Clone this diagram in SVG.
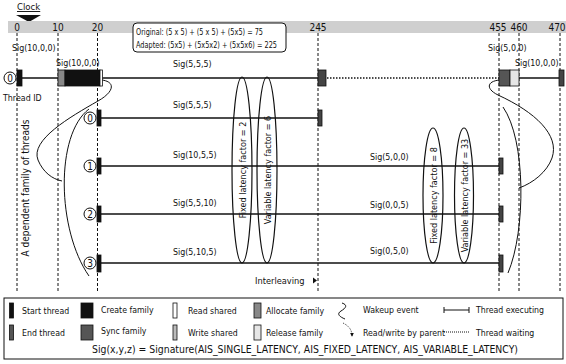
<svg xmlns="http://www.w3.org/2000/svg" width="566" height="364" viewBox="0 0 566 364">
<defs>
<style>
text{font-family:"DejaVu Sans Condensed","DejaVu Sans",sans-serif;font-stretch:condensed;fill:#111;font-size:8.8px}
.tick{font-size:10px;text-anchor:middle}
.box{font-size:8.3px}
.leg{font-size:8.7px}
.dash{stroke:#111;stroke-width:1;stroke-dasharray:3,2;fill:none}
.thr{stroke:#111;stroke-width:1.5;fill:none}
.curve{stroke:#111;stroke-width:1;fill:none}
.ell{fill:none;stroke:#111;stroke-width:1.2}
.blk{fill:#111;stroke:#111;stroke-width:0.8}
.end{fill:#444;stroke:#111;stroke-width:0.8}
.alloc{fill:#888;stroke:#111;stroke-width:0.8}
.rd{fill:#fff;stroke:#111;stroke-width:0.8}
.wr{fill:#bbb;stroke:#111;stroke-width:0.8}
.rel{fill:#e6e6e6;stroke:#111;stroke-width:0.8}
.sync{fill:#555;stroke:#111;stroke-width:0.8}
.cid{fill:#fff;stroke:#111;stroke-width:1}
.cidt{font-size:10px;text-anchor:middle}
.vt{font-size:9px;text-anchor:middle}
</style>
<marker id="ah" viewBox="0 0 6 6" refX="5" refY="3" markerWidth="5" markerHeight="5" orient="auto"><path d="M0,0L6,3L0,6z" fill="#111"/></marker>
</defs>
<rect width="566" height="364" fill="#fff"/>

<g id="clock">
<text x="17" y="10" style="text-decoration:underline;font-size:9.5px">Clock</text>
<path d="M16,15 L41,15 L29,22 Z" fill="#111"/>
<rect x="8" y="21" width="558" height="12" fill="#cfcfcf"/>
<text class="tick" x="17" y="31">0</text>
<text class="tick" x="58" y="31">10</text>
<text class="tick" x="97.5" y="31">20</text>
<text class="tick" x="318" y="31">245</text>
<text class="tick" x="498" y="31">455</text>
<text class="tick" x="519" y="31">460</text>
<text class="tick" x="557" y="31">470</text>
</g>

<g id="formula">
<rect x="133" y="23" width="153" height="29" rx="4" fill="#fff" stroke="#111" stroke-width="1"/>
<text class="box" x="136" y="35" textLength="127" lengthAdjust="spacingAndGlyphs">Original: (5 x 5) + (5 x 5) + (5x5) = 75</text>
<text class="box" x="136" y="48" textLength="141" lengthAdjust="spacingAndGlyphs">Adapted: (5x5) + (5x5x2) + (5x5x6) = 225</text>
</g>

<g id="gridlines">
<line class="dash" x1="17" y1="33" x2="17" y2="292"/>
<line class="dash" x1="58" y1="33" x2="58" y2="292"/>
<line class="dash" x1="97.5" y1="33" x2="97.5" y2="292"/>
<line class="dash" x1="318" y1="33" x2="318" y2="292"/>
<line class="dash" x1="499" y1="33" x2="499" y2="292"/>
<line class="dash" x1="519" y1="33" x2="519" y2="292"/>
<line class="dash" x1="560" y1="33" x2="560" y2="292"/>
</g>

<g id="connectors">
<line class="thr" x1="22" y1="78" x2="58" y2="78"/>
<line class="thr" x1="102" y1="78" x2="318" y2="78"/>
<line x1="327" y1="78" x2="499" y2="78" stroke="#111" stroke-width="1.5" stroke-dasharray="1.5,1.5"/>
<line class="thr" x1="519" y1="78" x2="560" y2="78"/>
<line class="thr" x1="101" y1="118" x2="318" y2="118"/>
<line class="thr" x1="101" y1="166" x2="499" y2="166"/>
<line class="thr" x1="101" y1="214" x2="499" y2="214"/>
<line class="thr" x1="101" y1="263" x2="499" y2="263"/>
<path class="curve" d="M102,80 C116,82 114,92 98,101 C70,117 30,140 38,160 C43,172 52,179 62,181"/>
<path class="curve" d="M89,109 C55,135 57,230 89,276"/>
<path class="curve" d="M502,80 C488,80 484,88 498,95 C535,112 560,135 552,158 C547,172 533,183 519,188"/>
<path class="curve" d="M503,107 C526,140 526,230 508,273"/>
</g>

<g id="thread0">
<circle class="cid" cx="10" cy="78" r="6"/>
<text class="cidt" x="10" y="81.5">0</text>
<rect class="blk" x="17" y="70" width="5" height="16"/>
<rect class="alloc" x="58" y="70" width="7" height="16"/>
<rect class="blk" x="65" y="70" width="35" height="16"/>
<rect class="rd" x="100" y="70" width="2.5" height="16"/>
<rect class="end" x="318" y="70" width="8" height="16"/>
<rect class="sync" x="499" y="70" width="11" height="16"/>
<rect class="rel" x="510" y="70" width="9" height="16"/>
<rect class="end" x="559" y="70" width="5" height="16"/>
<text x="12" y="51">Sig(10,0,0)</text>
<text x="56" y="66">Sig(10,0,0)</text>
<text x="173" y="67">Sig(5,5,5)</text>
<text x="488" y="51">Sig(5,0,0)</text>
<text x="515" y="66">Sig(10,0,0)</text>
<text x="3" y="101">Thread ID</text>
</g>

<g id="child0">
<circle class="cid" cx="90" cy="118" r="6"/>
<text class="cidt" x="90" y="121.5">0</text>
<rect class="blk" x="97" y="110" width="4" height="16"/>
<rect class="end" x="318" y="110" width="4" height="16"/>
<text x="173" y="108">Sig(5,5,5)</text>
</g>

<g id="child1">
<circle class="cid" cx="90" cy="166" r="6"/>
<text class="cidt" x="90" y="169.5">1</text>
<rect class="blk" x="97" y="158" width="4" height="16"/>
<rect class="end" x="499" y="158" width="4" height="16"/>
<text x="173" y="158">Sig(10,5,5)</text>
<text x="370" y="160">Sig(5,0,0)</text>
</g>

<g id="child2">
<circle class="cid" cx="90" cy="214" r="6"/>
<text class="cidt" x="90" y="217.5">2</text>
<rect class="blk" x="97" y="206" width="4" height="16"/>
<rect class="end" x="499" y="206" width="4" height="16"/>
<text x="173" y="206">Sig(5,5,10)</text>
<text x="370" y="208">Sig(0,0,5)</text>
</g>

<g id="child3">
<circle class="cid" cx="90" cy="263" r="6"/>
<text class="cidt" x="90" y="266.5">3</text>
<rect class="blk" x="97" y="255" width="4" height="17"/>
<rect class="end" x="499" y="255" width="4" height="17"/>
<text x="173" y="255">Sig(5,10,5)</text>
<text x="370" y="254">Sig(0,5,0)</text>
</g>

<g id="latency1">
<ellipse class="ell" cx="242" cy="170" rx="10" ry="93"/>
<ellipse class="ell" cx="267" cy="170" rx="10" ry="93"/>
<text class="vt" transform="translate(245.5,170) rotate(-90)">Fixed latency factor = 2</text>
<text class="vt" transform="translate(270.5,170) rotate(-90)">Variable latency factor = 6</text>
</g>

<g id="latency2">
<ellipse class="ell" cx="433" cy="195.5" rx="10" ry="67.5"/>
<ellipse class="ell" cx="464" cy="195.5" rx="9.5" ry="67.5"/>
<text class="vt" transform="translate(436.5,195.5) rotate(-90)">Fixed latency factor = 8</text>
<text class="vt" transform="translate(467.5,195.5) rotate(-90)">Variable latency factor = 33</text>
</g>

<g id="labels">
<text style="font-size:10px;text-anchor:middle" transform="translate(28.5,188) rotate(-90)">A dependent family of threads</text>
<text x="255" y="284" style="font-size:9.2px">Interleaving</text>
<path d="M313,277.5 L317,280.5 L313,283.5 Z" fill="#111"/>
</g>

<g id="legend">
<rect x="4" y="298" width="559" height="61" fill="#fff" stroke="#111" stroke-width="1"/>
<rect class="blk" x="9.5" y="303" width="4" height="15"/>
<text class="leg" x="22" y="314">Start thread</text>
<rect class="sync" x="9.5" y="325" width="4" height="15"/>
<text class="leg" x="22" y="336">End thread</text>
<rect class="blk" x="81" y="303" width="12" height="15"/>
<text class="leg" x="101" y="313">Create family</text>
<rect class="sync" x="81" y="325" width="12" height="15"/>
<text class="leg" x="101" y="334">Sync family</text>
<rect class="rd" x="173" y="303" width="4" height="15"/>
<text class="leg" x="188" y="314">Read shared</text>
<rect class="wr" x="173" y="325" width="4" height="15"/>
<text class="leg" x="188" y="336">Write shared</text>
<rect class="alloc" x="254" y="303" width="7" height="15"/>
<text class="leg" x="266" y="314">Allocate family</text>
<rect class="rel" x="254" y="325" width="7" height="15"/>
<text class="leg" x="266" y="336">Release family</text>
<path class="curve" d="M342,303 C348,305 346,308 341,311 C336,314 340,317 345,319"/>
<text class="leg" x="363" y="313">Wakeup event</text>
<path d="M343,323 C349,326 352,330 352,336" fill="none" stroke="#111" stroke-width="0.8" stroke-dasharray="1,1" marker-end="url(#ah)"/>
<text class="leg" x="363" y="336">Read/write by parent</text>
<line x1="444" y1="310" x2="469" y2="310" stroke="#111" stroke-width="1"/>
<line x1="444" y1="307" x2="444" y2="313" stroke="#111" stroke-width="1"/>
<line x1="469" y1="307" x2="469" y2="313" stroke="#111" stroke-width="1"/>
<text class="leg" x="476" y="313">Thread executing</text>
<line x1="444" y1="332" x2="469" y2="332" stroke="#111" stroke-width="1" stroke-dasharray="1,1"/>
<text class="leg" x="476" y="336">Thread waiting</text>
<text style="font-size:10.2px" x="92" y="353" textLength="426" lengthAdjust="spacingAndGlyphs">Sig(x,y,z) = Signature(AIS_SINGLE_LATENCY, AIS_FIXED_LATENCY, AIS_VARIABLE_LATENCY)</text>
</g>
</svg>
